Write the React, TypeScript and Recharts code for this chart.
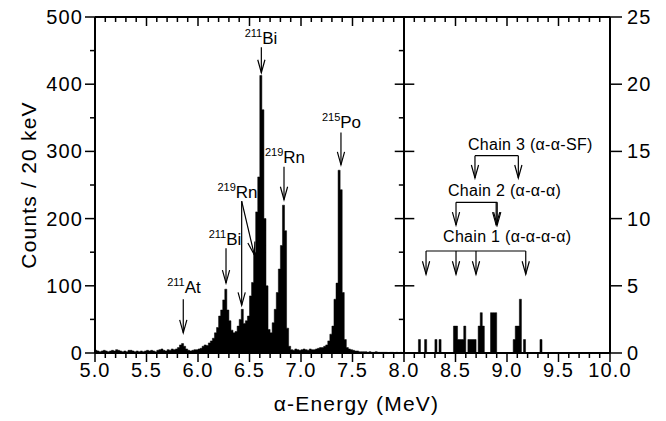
import React from "react";
import { ComposedChart, Area, XAxis, YAxis, ReferenceLine, ReferenceDot } from "recharts";

const FONT = "'Liberation Sans', Arial, Helvetica, sans-serif";

// counts per 20 keV bin, bins starting at 5.00, 5.02, ... 7.98 MeV (left scale)
const leftCounts = [
  4, 3, 2, 3, 4, 3, 2, 3, 4, 3, // 5.00
  5, 4, 3, 2, 3, 2, 4, 4, 3, 2, // 5.20
  3, 2, 3, 2, 3, 4, 3, 4, 3, 2, // 5.40
  4, 5, 6, 4, 3, 5, 4, 6, 5, 6, // 5.60
  8, 12, 14, 10, 6, 4, 3, 4, 5, 5, // 5.80
  6, 7, 10, 12, 11, 15, 18, 22, 30, 38, // 6.00
  55, 64, 79, 95, 64, 48, 34, 30, 32, 40, // 6.20
  50, 65, 44, 48, 55, 85, 105, 150, 210, 262, // 6.40
  413, 362, 200, 100, 35, 30, 45, 65, 90, 125, // 6.60
  160, 220, 182, 37, 10, 5, 4, 6, 5, 4, // 6.80
  5, 6, 5, 4, 6, 5, 5, 6, 7, 8, // 7.00
  8, 10, 12, 18, 28, 40, 80, 104, 272, 243, // 7.20
  90, 20, 8, 6, 5, 4, 3, 3, 2, 2, // 7.40
  2, 2, 1, 2, 1, 1, 2, 1, 1, 1, // 7.60
  1, 1, 0, 1, 1, 0, 1, 0, 1, 0, // 7.80
];

// non-empty bins above 8 MeV: [bin start (MeV), counts] (right scale)
const rightBins: [number, number][] = [
  [8.14, 1], [8.2, 1], [8.3, 1], [8.34, 1], [8.48, 2], [8.5, 2], [8.52, 1], [8.54, 1],
  [8.56, 1], [8.58, 2], [8.62, 1], [8.64, 1], [8.66, 1], [8.68, 1], [8.72, 2], [8.74, 3],
  [8.76, 2], [8.84, 3], [8.86, 3], [8.88, 3], [9.06, 1], [9.08, 2], [9.1, 2], [9.12, 4],
  [9.16, 1], [9.32, 1],
];

const xTicks = [
  5.0, 5.1, 5.2, 5.3, 5.4, 5.5, 5.6, 5.7, 5.8, 5.9,
  6.0, 6.1, 6.2, 6.3, 6.4, 6.5, 6.6, 6.7, 6.8, 6.9,
  7.0, 7.1, 7.2, 7.3, 7.4, 7.5, 7.6, 7.7, 7.8, 7.9,
  8.0, 8.1, 8.2, 8.3, 8.4, 8.5, 8.6, 8.7, 8.8, 8.9,
  9.0, 9.1, 9.2, 9.3, 9.4, 9.5, 9.6, 9.7, 9.8, 9.9, 10.0,
];
const xLabelTicks = [5.0, 5.5, 6.0, 6.5, 7.0, 7.5, 8.0, 8.5, 9.0, 9.5, 10.0];
const leftTicks = [0, 50, 100, 150, 200, 250, 300, 350, 400, 450, 500];
const leftLabelTicks = [0, 100, 200, 300, 400, 500];
const rightTicks = [0, 5, 10, 15, 20, 25];

// isotope labels and arrows on the left scale: label centre, label baseline, arrow from/to
const isotopes = [
  { mass: "211", sym: "At", e: 5.864, yLabel: 89, arrows: [[5.857, 80, 5.857, 30]] },
  { mass: "211", sym: "Bi", e: 6.262, yLabel: 161, arrows: [[6.272, 156, 6.272, 104]] },
  { mass: "219", sym: "Rn", e: 6.383, yLabel: 231, arrows: [[6.424, 226, 6.424, 71], [6.424, 226, 6.547, 146]] },
  { mass: "211", sym: "Bi", e: 6.612, yLabel: 460, arrows: [[6.615, 455, 6.615, 417]] },
  { mass: "219", sym: "Rn", e: 6.845, yLabel: 283, arrows: [[6.835, 277, 6.835, 228]] },
  { mass: "215", sym: "Po", e: 7.393, yLabel: 335, arrows: [[7.388, 328, 7.388, 280]] },
];

// decay chains on the right scale
const chains = [
  { name: "Chain 3 (α-α-SF)", eText: 8.621, yText: 15.1, yBar: 14.68, yTip: 13.02, arrowsAt: [8.689, 9.11] },
  { name: "Chain 2 (α-α-α)", eText: 8.427, yText: 11.68, yBar: 11.21, yTip: 9.52, arrowsAt: [8.505, 8.895, 8.905] },
  { name: "Chain 1 (α-α-α-α)", eText: 8.379, yText: 8.26, yBar: 7.59, yTip: 5.86, arrowsAt: [8.214, 8.505, 8.699, 9.182] },
];

const key = (v: number) => Math.round(v * 100);
const rightMap = new Map(rightBins.map(([e, c]) => [key(e), c]));

const data = Array.from({ length: 251 }, (_, i) => {
  const e = (500 + i * 2) / 100;
  return {
    e,
    left: i < 150 ? leftCounts[i] : i === 150 ? 0 : undefined,
    right: i >= 150 ? rightMap.get(key(e)) ?? 0 : undefined,
  };
});

const isOn = (v: number, list: number[]) => list.some((t) => Math.abs(t - v) < 1e-6);

const tickText = { fontSize: 20, letterSpacing: 1.1, fontFamily: FONT, fill: "#000" };

const BottomTick = ({ x, y, payload }: any) => {
  const major = isOn(payload.value, xLabelTicks);
  return (
    <g>
      <line x1={x} y1={y} x2={x} y2={y + (major ? 9 : 5)} stroke="#000" strokeWidth={1.5} />
      {major && (
        <text x={x} y={y + 24} textAnchor="middle" {...tickText}>
          {payload.value.toFixed(1)}
        </text>
      )}
    </g>
  );
};

const TopTick = ({ x, y, payload }: any) => {
  const major = isOn(payload.value, xLabelTicks);
  return <line x1={x} y1={y} x2={x} y2={y + (major ? 9 : 5)} stroke="#000" strokeWidth={1.5} />;
};

const LeftTick = ({ x, y, payload }: any) => {
  const major = isOn(payload.value, leftLabelTicks);
  return (
    <g>
      <line x1={x} y1={y} x2={x - (major ? 10 : 5)} y2={y} stroke="#000" strokeWidth={1.5} />
      {major && (
        <text x={x - 12} y={y + 7} textAnchor="end" {...tickText}>
          {payload.value}
        </text>
      )}
    </g>
  );
};

const RightTick = ({ x, y, payload }: any) => (
  <g>
    <line x1={x} y1={y} x2={x + 12} y2={y} stroke="#000" strokeWidth={1.5} />
    <text x={x + 17} y={y + 7} textAnchor="start" {...tickText}>
      {payload.value}
    </text>
  </g>
);

const YTitle = ({ viewBox }: any) => {
  const cx = viewBox.x + viewBox.width - 67;
  const cy = viewBox.y + viewBox.height / 2;
  return (
    <text x={cx} y={cy} transform={`rotate(-90 ${cx} ${cy})`} textAnchor="middle" dominantBaseline="central"
      fontSize={21} letterSpacing={1.2} fontFamily={FONT} fill="#000">
      Counts / 20 keV
    </text>
  );
};

const XTitle = ({ viewBox }: any) => (
  <text x={viewBox.x + viewBox.width / 2 + 4} y={viewBox.y + 58} textAnchor="middle" fontSize={21} letterSpacing={1.2}
    fontFamily={FONT} fill="#000">
    α-Energy (MeV)
  </text>
);

const arrowShape = (p: any) => {
  const { x1, y1, x2, y2 } = p;
  const dx = x2 - x1;
  const dy = y2 - y1;
  const len = Math.hypot(dx, dy) || 1;
  const ux = dx / len;
  const uy = dy / len;
  const hl = 13;
  const hw = 3.6;
  const bx = x2 - ux * hl;
  const by = y2 - uy * hl;
  return (
    <g>
      <line x1={x1} y1={y1} x2={x2} y2={y2} stroke="#000" strokeWidth={1.2} />
      <polyline
        points={`${bx - uy * hw},${by + ux * hw} ${x2},${y2} ${bx + uy * hw},${by - ux * hw}`}
        fill="none" stroke="#000" strokeWidth={1.2}
      />
    </g>
  );
};

const isoLabel = (mass: string, sym: string) => (p: any) => (
  <text x={p.cx} y={p.cy} textAnchor="middle" fontFamily={FONT} fill="#000">
    <tspan fontSize={11} dy={-7}>{mass}</tspan>
    <tspan fontSize={17} dy={7}>{sym}</tspan>
  </text>
);

const chainLabel = (name: string) => (p: any) => (
  <text x={p.cx} y={p.cy} textAnchor="start" fontSize={16} letterSpacing={0.3} fontFamily={FONT} fill="#000">
    {name}
  </text>
);

export default function App() {
  return (
    <div style={{ position: "absolute", left: 0, top: 0, background: "#fff" }}>
      <ComposedChart width={666} height={421} data={data} margin={{ top: 16, right: 55, bottom: 67, left: 94 }}>
        <XAxis dataKey="e" type="number" domain={[5, 10]} ticks={xTicks} interval={0} height={1}
          tickLine={false} tickSize={0} tickMargin={0} tick={<BottomTick />}
          axisLine={{ stroke: "#000", strokeWidth: 2 }} label={<XTitle />} />
        <XAxis xAxisId="top" orientation="top" dataKey="e" type="number" domain={[5, 10]} ticks={xTicks} interval={0}
          height={1} tickLine={false} tickSize={0} tickMargin={0} tick={<TopTick />}
          axisLine={{ stroke: "#000", strokeWidth: 2 }} />
        <YAxis yAxisId="left" type="number" domain={[0, 500]} ticks={leftTicks} interval={0} width={1}
          tickLine={false} tickSize={0} tickMargin={0} tick={<LeftTick />}
          axisLine={{ stroke: "#000", strokeWidth: 2 }} label={<YTitle />} />
        <YAxis yAxisId="right" orientation="right" type="number" domain={[0, 25]} ticks={rightTicks} interval={0}
          width={1} tickLine={false} tickSize={0} tickMargin={0} tick={<RightTick />}
          axisLine={{ stroke: "#000", strokeWidth: 2 }} />

        <Area yAxisId="left" type="stepAfter" dataKey="left" stroke="#000" strokeWidth={0.5} fill="#000" fillOpacity={1}
          dot={false} activeDot={false} isAnimationActive={false} />
        <Area yAxisId="right" type="stepAfter" dataKey="right" stroke="#000" strokeWidth={0.5} fill="#000" fillOpacity={1}
          dot={false} activeDot={false} isAnimationActive={false} />

        <ReferenceLine yAxisId="left" x={8} stroke="#000" strokeWidth={2} />
        {leftTicks.slice(1, -1).map((t) => (
          <ReferenceLine key={`dv${t}`} yAxisId="left" stroke="#000" strokeWidth={1.5}
            segment={isOn(t, leftLabelTicks) ? [{ x: 7.91, y: t }, { x: 8.1, y: t }] : [{ x: 7.95, y: t }, { x: 8, y: t }]} />
        ))}

        {isotopes.map((iso, i) =>
          iso.arrows.map(([xa, ya, xb, yb], j) => (
            <ReferenceLine key={`ia${i}-${j}`} yAxisId="left" segment={[{ x: xa, y: ya }, { x: xb, y: yb }]} shape={arrowShape} />
          ))
        )}
        {isotopes.map((iso, i) => (
          <ReferenceDot key={`il${i}`} yAxisId="left" x={iso.e} y={iso.yLabel} r={0} shape={isoLabel(iso.mass, iso.sym)} />
        ))}

        {chains.map((c, i) => (
          <ReferenceLine key={`cb${i}`} yAxisId="right" stroke="#000" strokeWidth={1.2}
            segment={[{ x: c.arrowsAt[0], y: c.yBar }, { x: c.arrowsAt[c.arrowsAt.length - 1], y: c.yBar }]} />
        ))}
        {chains.map((c, i) =>
          c.arrowsAt.map((e, j) => (
            <ReferenceLine key={`ca${i}-${j}`} yAxisId="right" segment={[{ x: e, y: c.yBar }, { x: e, y: c.yTip }]} shape={arrowShape} />
          ))
        )}
        {chains.map((c, i) => (
          <ReferenceDot key={`cl${i}`} yAxisId="right" x={c.eText} y={c.yText} r={0} shape={chainLabel(c.name)} />
        ))}
      </ComposedChart>
    </div>
  );
}
